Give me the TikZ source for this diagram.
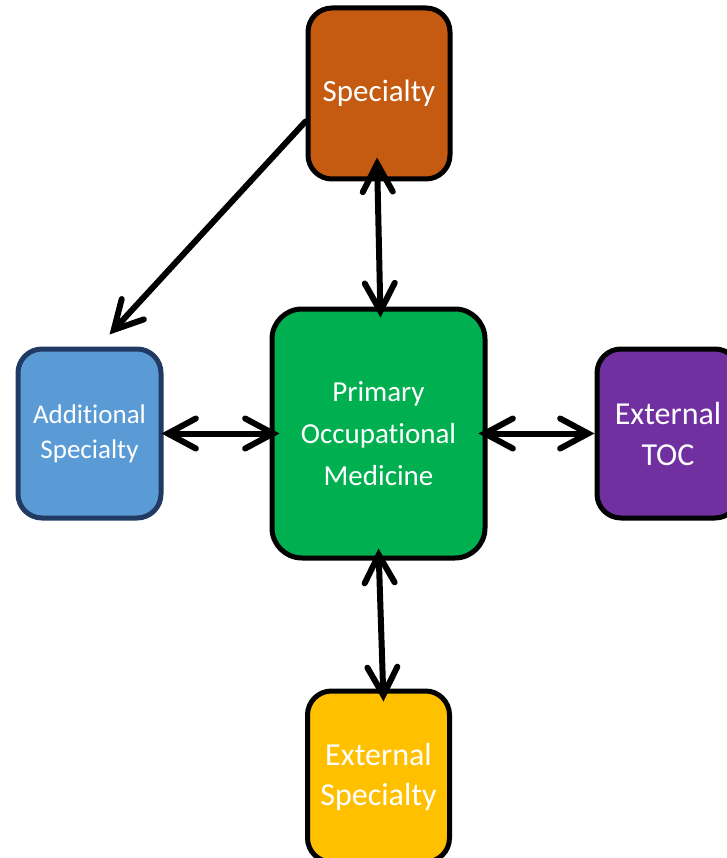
\documentclass[tikz,border=0pt]{standalone}
\usepackage{fontspec}
\setmainfont{Carlito}[Ligatures=NoCommon]
\usetikzlibrary{positioning,arrows.meta}

\definecolor{specorange}{HTML}{C55A11}
\definecolor{primgreen}{HTML}{00B050}
\definecolor{addlblue}{HTML}{5B9BD5}
\definecolor{addledge}{HTML}{213A63}
\definecolor{tocpurple}{HTML}{7030A0}
\definecolor{extyellow}{HTML}{FFC000}

\begin{document}
\begin{tikzpicture}[
    x=1pt, y=1pt,
    box/.style={rectangle, rounded corners=24pt, draw=black, line width=5pt, text=white, minimum width=142pt, minimum height=171pt, align=center, font=\fontsize{31}{40}\selectfont},
    arrow/.style={{Straight Barb[length=28pt,width=30pt,line cap=round]}-{Straight Barb[length=28pt,width=30pt,line cap=round]}, line width=6pt, line cap=round},
    onearrow/.style={-{Straight Barb[length=28pt,width=30pt,line cap=round]}, line width=6pt, line cap=round}
]
\useasboundingbox (0,0) rectangle (727,-858);

% Nodes
\node[box, fill=primgreen, rounded corners=30pt, minimum width=213pt, minimum height=249pt, font=\fontsize{29}{42}\selectfont] (primary) at (378.5,-433.5) {Primary\\Occupational\\Medicine};
\node[box, fill=specorange, above=125pt of primary, xshift=0.5pt] (specialty) {Specialty};
\node[box, fill=addlblue, draw=addledge, minimum width=143pt, minimum height=169pt, left=106pt of primary, font=\fontsize{27}{35}\selectfont] (additional) {Additional\\Specialty};
\node[box, fill=tocpurple, right=107pt of primary, minimum height=169pt, font=\fontsize{32}{41}\selectfont] (toc) {External\\TOC};
\node[box, fill=extyellow, below=127pt of primary, yshift=-1pt, font=\fontsize{32}{40}\selectfont] (extspec) {External\\Specialty};

% Arrows
\draw[arrow] ([xshift=-2pt,yshift=24pt]specialty.south) -- ([xshift=2pt,yshift=-11pt]primary.north);
\draw[onearrow] ([yshift=-28pt]specialty.west) -- ([xshift=20pt,yshift=12pt]additional.north);
\draw[arrow] ([xshift=-2pt]additional.east) -- ([xshift=10pt]primary.west);
\draw[arrow] ([xshift=-9pt]primary.east) -- (toc.west);
\draw[arrow] ([yshift=12pt]primary.south) -- ([xshift=5pt,yshift=-13pt]extspec.north);

\end{tikzpicture}
\end{document}
